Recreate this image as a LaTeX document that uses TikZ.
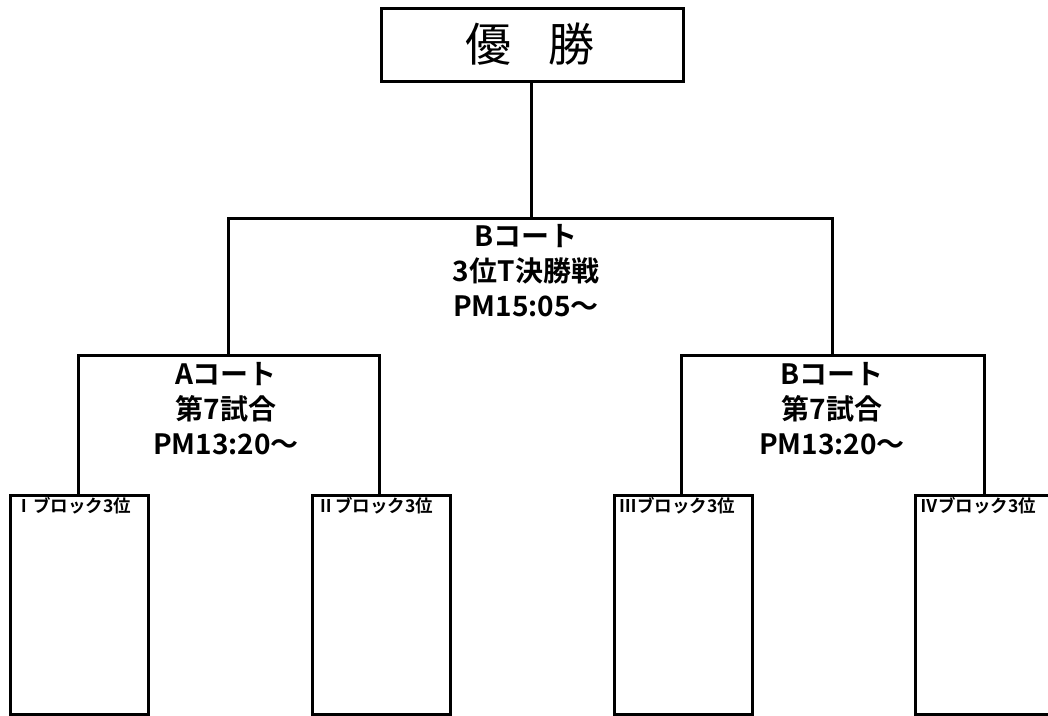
\documentclass[tikz,border=0pt]{standalone}
\usepackage{fontspec}
\setmainfont{Noto Sans CJK JP}[BoldFont={Noto Sans CJK JP Bold}]
\begin{document}
\begin{tikzpicture}[x=1pt,y=-1pt,
  line width=3pt,
  winbox/.style={draw,line width=3pt,minimum width=302pt,minimum height=73pt,anchor=north west,inner sep=0pt},
  teambox/.style={draw,line width=3pt,minimum width=138pt,minimum height=219pt,anchor=north west,inner sep=0pt},
  teamlabel/.style={anchor=west,inner sep=0pt,font=\bfseries\fontsize{17.5}{19}\selectfont},
  matchlabel/.style={align=center,inner sep=0pt,font=\bfseries\fontsize{28}{35}\selectfont}]
\useasboundingbox (0,0) rectangle (1048,715);
\node[winbox] (win) at (380,7) {};
\node[font=\fontsize{46}{50}\selectfont,inner sep=0pt] (wintext) at (530,44) {優\hspace{0.8em}勝};
\node[teambox] (b1) at (9,494) {};
\node[teambox] (b2) at (311,494) {};
\node[teambox] (b3) at (613,494) {};
\node[teambox] (b4) at (914,494) {};
\node[teamlabel] (t1) at (14,506) {Ⅰブロック3位};
\node[teamlabel] (t2) at (316,506) {Ⅱブロック3位};
\node[teamlabel] (t3) at (618,506) {Ⅲブロック3位};
\node[teamlabel] (t4) at (919,506) {Ⅳブロック3位};
\coordinate (cL) at (228,355);
\coordinate (cR) at (832,355);
\coordinate (cM) at (531,218);
\coordinate (q1) at (78,494);
\coordinate (q2) at (379,494);
\coordinate (q3) at (681,494);
\coordinate (q4) at (984,494);
\draw (q1) |- (cL) -| (q2);
\draw (q3) |- (cR) -| (q4);
\draw (cL) |- (cM) -| (cR);
\draw (cM) -- (win.south -| cM);
\node[matchlabel] (mM) at (526,271) {Bコート\\3位T決勝戦\\PM15:05～};
\node[matchlabel] (mL) at (226,409) {Aコート\\第7試合\\PM13:20～};
\node[matchlabel] (mR) at (832,409) {Bコート\\第7試合\\PM13:20～};
\end{tikzpicture}
\end{document}
